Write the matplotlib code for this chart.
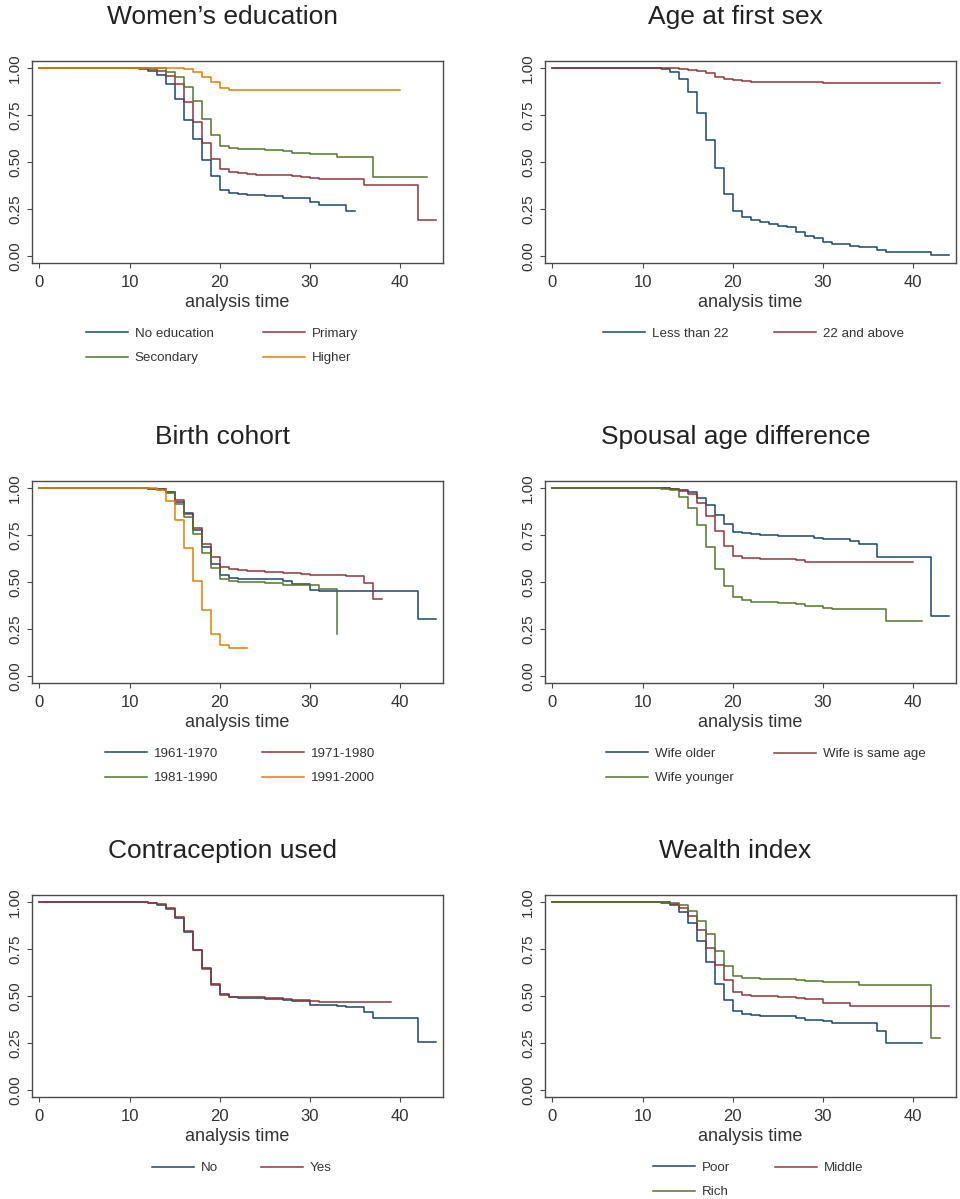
import matplotlib
matplotlib.use("Agg")
import matplotlib.pyplot as plt

plt.rcParams["font.family"] = ["Liberation Sans", "DejaVu Sans"]

# ---------------------------------------------------------------------------
# Data: Kaplan-Meier survival estimates
# each group: step times (last = end of follow-up) and survival after each step
# ---------------------------------------------------------------------------

# Women's education
edu_labels = ["No education", "Primary", "Secondary", "Higher"]
edu_none_t = [0, 11, 12, 13, 14, 15, 16, 17, 18, 19, 20, 21, 22, 23, 25, 27, 30, 31, 34, 35]
edu_none_s = [1.0, 0.995, 0.985, 0.961, 0.913, 0.835, 0.722, 0.621, 0.510, 0.423, 0.349,
              0.336, 0.329, 0.326, 0.320, 0.306, 0.287, 0.269, 0.237, 0.237]
edu_prim_t = [0, 12, 13, 14, 15, 16, 17, 18, 19, 20, 21, 22, 23, 24, 27, 28, 29, 30, 31, 36, 42, 44]
edu_prim_s = [1.0, 0.995, 0.985, 0.957, 0.912, 0.819, 0.710, 0.602, 0.515, 0.462, 0.444,
              0.439, 0.435, 0.432, 0.428, 0.423, 0.418, 0.412, 0.407, 0.377, 0.189, 0.189]
edu_sec_t = [0, 13, 14, 15, 16, 17, 18, 19, 20, 21, 22, 23, 25, 27, 28, 30, 33, 37, 43]
edu_sec_s = [1.0, 0.997, 0.979, 0.949, 0.899, 0.821, 0.727, 0.641, 0.582, 0.572, 0.568,
             0.566, 0.563, 0.556, 0.549, 0.541, 0.526, 0.419, 0.419]
edu_high_t = [0, 14, 16, 17, 18, 19, 20, 21, 40]
edu_high_s = [1.0, 0.998, 0.995, 0.979, 0.952, 0.922, 0.890, 0.881, 0.881]

# Age at first sex
sex_labels = ["Less than 22", "22 and above"]
sex_lt22_t = [0, 11, 12, 13, 14, 15, 16, 17, 18, 19, 20, 21, 22, 23, 24, 25, 26, 27, 28,
              29, 30, 31, 33, 34, 36, 37, 42, 44]
sex_lt22_s = [1.0, 0.998, 0.993, 0.979, 0.942, 0.873, 0.758, 0.614, 0.465, 0.331, 0.237,
              0.205, 0.191, 0.179, 0.170, 0.161, 0.156, 0.126, 0.108, 0.094, 0.076, 0.064,
              0.055, 0.048, 0.032, 0.021, 0.007, 0.007]
sex_ge22_t = [0, 13, 14, 15, 16, 17, 18, 19, 20, 21, 22, 23, 24, 27, 30, 43]
sex_ge22_s = [1.0, 0.998, 0.995, 0.989, 0.982, 0.972, 0.952, 0.943, 0.935, 0.931, 0.927,
              0.926, 0.924, 0.922, 0.920, 0.920]

# Birth cohort
coh_labels = ["1961-1970", "1971-1980", "1981-1990", "1991-2000"]
coh_61_t = [0, 12, 13, 14, 15, 16, 17, 18, 19, 20, 21, 22, 27, 28, 30, 31, 42, 44]
coh_61_s = [1.0, 0.996, 0.991, 0.975, 0.926, 0.865, 0.777, 0.685, 0.593, 0.535, 0.520,
            0.517, 0.503, 0.490, 0.458, 0.451, 0.301, 0.301]
coh_71_t = [0, 12, 13, 14, 15, 16, 17, 18, 19, 20, 21, 22, 23, 25, 27, 29, 30, 34, 36, 37, 38]
coh_71_s = [1.0, 0.996, 0.991, 0.978, 0.933, 0.862, 0.786, 0.699, 0.632, 0.579, 0.570,
            0.561, 0.556, 0.552, 0.547, 0.542, 0.538, 0.529, 0.494, 0.411, 0.411]
coh_81_t = [0, 12, 13, 14, 15, 16, 17, 18, 19, 20, 21, 22, 25, 27, 28, 31, 33]
coh_81_s = [1.0, 0.996, 0.990, 0.970, 0.912, 0.844, 0.756, 0.653, 0.573, 0.513, 0.503,
            0.499, 0.496, 0.485, 0.481, 0.460, 0.225]
coh_91_t = [0, 13, 14, 15, 16, 17, 18, 19, 20, 21, 23]
coh_91_s = [1.0, 0.990, 0.929, 0.827, 0.680, 0.506, 0.352, 0.225, 0.166, 0.149, 0.149]

# Spousal age difference
sp_labels = ["Wife older", "Wife is same age", "Wife younger"]
sp_old_t = [0, 12, 13, 14, 15, 16, 17, 18, 19, 20, 21, 22, 23, 25, 29, 30, 33, 34, 36, 42, 44]
sp_old_s = [1.0, 0.997, 0.993, 0.986, 0.975, 0.947, 0.906, 0.858, 0.809, 0.766, 0.758,
            0.754, 0.750, 0.745, 0.735, 0.727, 0.715, 0.701, 0.634, 0.317, 0.317]
sp_same_t = [0, 12, 13, 14, 15, 16, 17, 18, 19, 20, 21, 22, 23, 27, 28, 40]
sp_same_s = [1.0, 0.997, 0.993, 0.982, 0.968, 0.920, 0.851, 0.772, 0.692, 0.637, 0.628,
             0.625, 0.623, 0.618, 0.607, 0.607]
sp_young_t = [0, 12, 13, 14, 15, 16, 17, 18, 19, 20, 21, 22, 23, 25, 27, 28, 30, 31, 37, 41]
sp_young_s = [1.0, 0.996, 0.986, 0.950, 0.894, 0.800, 0.687, 0.570, 0.478, 0.418, 0.404,
              0.395, 0.391, 0.389, 0.381, 0.373, 0.363, 0.354, 0.292, 0.292]

# Contraception used
con_labels = ["No", "Yes"]
con_no_t = [0, 12, 13, 14, 15, 16, 17, 18, 19, 20, 21, 22, 23, 25, 27, 28, 30, 31, 33, 34,
            36, 37, 42, 44]
con_no_s = [1.0, 0.995, 0.984, 0.959, 0.913, 0.839, 0.745, 0.648, 0.563, 0.511, 0.496,
            0.490, 0.487, 0.483, 0.476, 0.471, 0.453, 0.450, 0.446, 0.439, 0.416, 0.384,
            0.253, 0.253]
con_yes_t = [0, 12, 13, 14, 15, 16, 17, 18, 19, 20, 21, 22, 25, 27, 28, 30, 31, 39]
con_yes_s = [1.0, 0.996, 0.989, 0.966, 0.918, 0.844, 0.743, 0.644, 0.559, 0.504, 0.494,
             0.492, 0.487, 0.481, 0.478, 0.474, 0.469, 0.469]

# Wealth index
wl_labels = ["Poor", "Middle", "Rich"]
wl_poor_t = [0, 12, 13, 14, 15, 16, 17, 18, 19, 20, 21, 22, 23, 27, 28, 30, 31, 36, 37, 41]
wl_poor_s = [1.0, 0.995, 0.984, 0.945, 0.885, 0.789, 0.681, 0.565, 0.476, 0.419, 0.403,
             0.396, 0.393, 0.381, 0.373, 0.366, 0.356, 0.313, 0.251, 0.251]
wl_mid_t = [0, 12, 13, 14, 15, 16, 17, 18, 19, 20, 21, 22, 25, 27, 28, 30, 33, 44]
wl_mid_s = [1.0, 0.997, 0.989, 0.966, 0.927, 0.851, 0.756, 0.664, 0.582, 0.520, 0.504,
            0.499, 0.492, 0.488, 0.483, 0.460, 0.444, 0.444]
wl_rich_t = [0, 12, 13, 14, 15, 16, 17, 18, 19, 20, 21, 22, 23, 25, 27, 28, 30, 34, 42, 43]
wl_rich_s = [1.0, 0.998, 0.993, 0.981, 0.950, 0.897, 0.827, 0.740, 0.660, 0.607, 0.595,
             0.593, 0.591, 0.588, 0.582, 0.577, 0.572, 0.558, 0.276, 0.276]

# ---------------------------------------------------------------------------
# Style (Stata s2color)
# ---------------------------------------------------------------------------
NAVY, MAROON, GREEN, ORANGE = "#1a476f", "#90353b", "#55752f", "#e37e00"
FRAME = "#4a4a4a"
W, H = 960, 1199

panels = [
    # title, series, labels, colours, axes left px, axes top px, legend column x px
    ("Women\u2019s education",
     [(edu_none_t, edu_none_s), (edu_prim_t, edu_prim_s), (edu_sec_t, edu_sec_s),
      (edu_high_t, edu_high_s)], edu_labels, [NAVY, MAROON, GREEN, ORANGE],
     32, 61, (86, 263)),
    ("Age at first sex",
     [(sex_lt22_t, sex_lt22_s), (sex_ge22_t, sex_ge22_s)], sex_labels, [NAVY, MAROON],
     545, 61, (603, 774)),
    ("Birth cohort",
     [(coh_61_t, coh_61_s), (coh_71_t, coh_71_s), (coh_81_t, coh_81_s),
      (coh_91_t, coh_91_s)], coh_labels, [NAVY, MAROON, GREEN, ORANGE],
     32, 481, (105, 262)),
    ("Spousal age difference",
     [(sp_old_t, sp_old_s), (sp_same_t, sp_same_s), (sp_young_t, sp_young_s)],
     sp_labels, [NAVY, MAROON, GREEN],
     545, 481, (606, 774)),
    ("Contraception used",
     [(con_no_t, con_no_s), (con_yes_t, con_yes_s)], con_labels, [NAVY, MAROON],
     32, 895, (152, 261)),
    ("Wealth index",
     [(wl_poor_t, wl_poor_s), (wl_mid_t, wl_mid_s), (wl_rich_t, wl_rich_s)],
     wl_labels, [NAVY, MAROON, GREEN],
     545, 895, (653, 775)),
]

AX_W, AX_H = 411, 202

fig = plt.figure(figsize=(W / 100, H / 100), dpi=100)
fig.patch.set_facecolor("white")

for title, series, labels, colors, left, top, leg_x in panels:
    ax = fig.add_axes([left / W, 1 - (top + AX_H) / H, AX_W / W, AX_H / H])
    lines = []
    for (t, s), c in zip(series, colors):
        ln, = ax.step(t, s, where="post", color=c, lw=1.1)
        lines.append(ln)

    ax.set_xlim(-0.81, 44.73)
    ax.set_ylim(-0.037, 1.036)
    ax.set_xticks([0, 10, 20, 30, 40])
    ax.set_yticks([0, 0.25, 0.5, 0.75, 1.0])
    ax.set_yticklabels(["0.00", "0.25", "0.50", "0.75", "1.00"],
                       rotation=90, va="center")
    ax.tick_params(axis="x", labelsize=12, pad=5, length=3.5, width=0.8,
                   color=FRAME, labelcolor="#333333")
    ax.tick_params(axis="y", labelsize=11, pad=3.5, length=3.5, width=0.8,
                   color=FRAME, labelcolor="#333333")
    for sp in ax.spines.values():
        sp.set_color(FRAME)
        sp.set_linewidth(1.0)
    ax.set_xlabel("analysis time", fontsize=13, color="#333333", labelpad=3)

    # title centred over the whole column (axes + y labels)
    cx = left + AX_W / 2 - 15
    fig.text(cx / W, 1 - (top - 37) / H, title, fontsize=19, color="#222222",
             ha="center", va="baseline")

    # Stata fills legends row-wise in two columns
    row1 = top + AX_H + 71
    for col in range(2):
        hs = lines[col::2]
        ls = labels[col::2]
        if not hs:
            continue
        yc = row1 + 12 * (len(hs) - 1)
        fig.legend(hs, ls, loc="center left",
                   bbox_to_anchor=(leg_x[col] / W, 1 - yc / H),
                   frameon=False, fontsize=9.6, handlelength=3.15,
                   handletextpad=0.5, labelspacing=0.88, borderpad=0,
                   borderaxespad=0, labelcolor="#333333")

fig.savefig("out.png", dpi=100, facecolor="white")
